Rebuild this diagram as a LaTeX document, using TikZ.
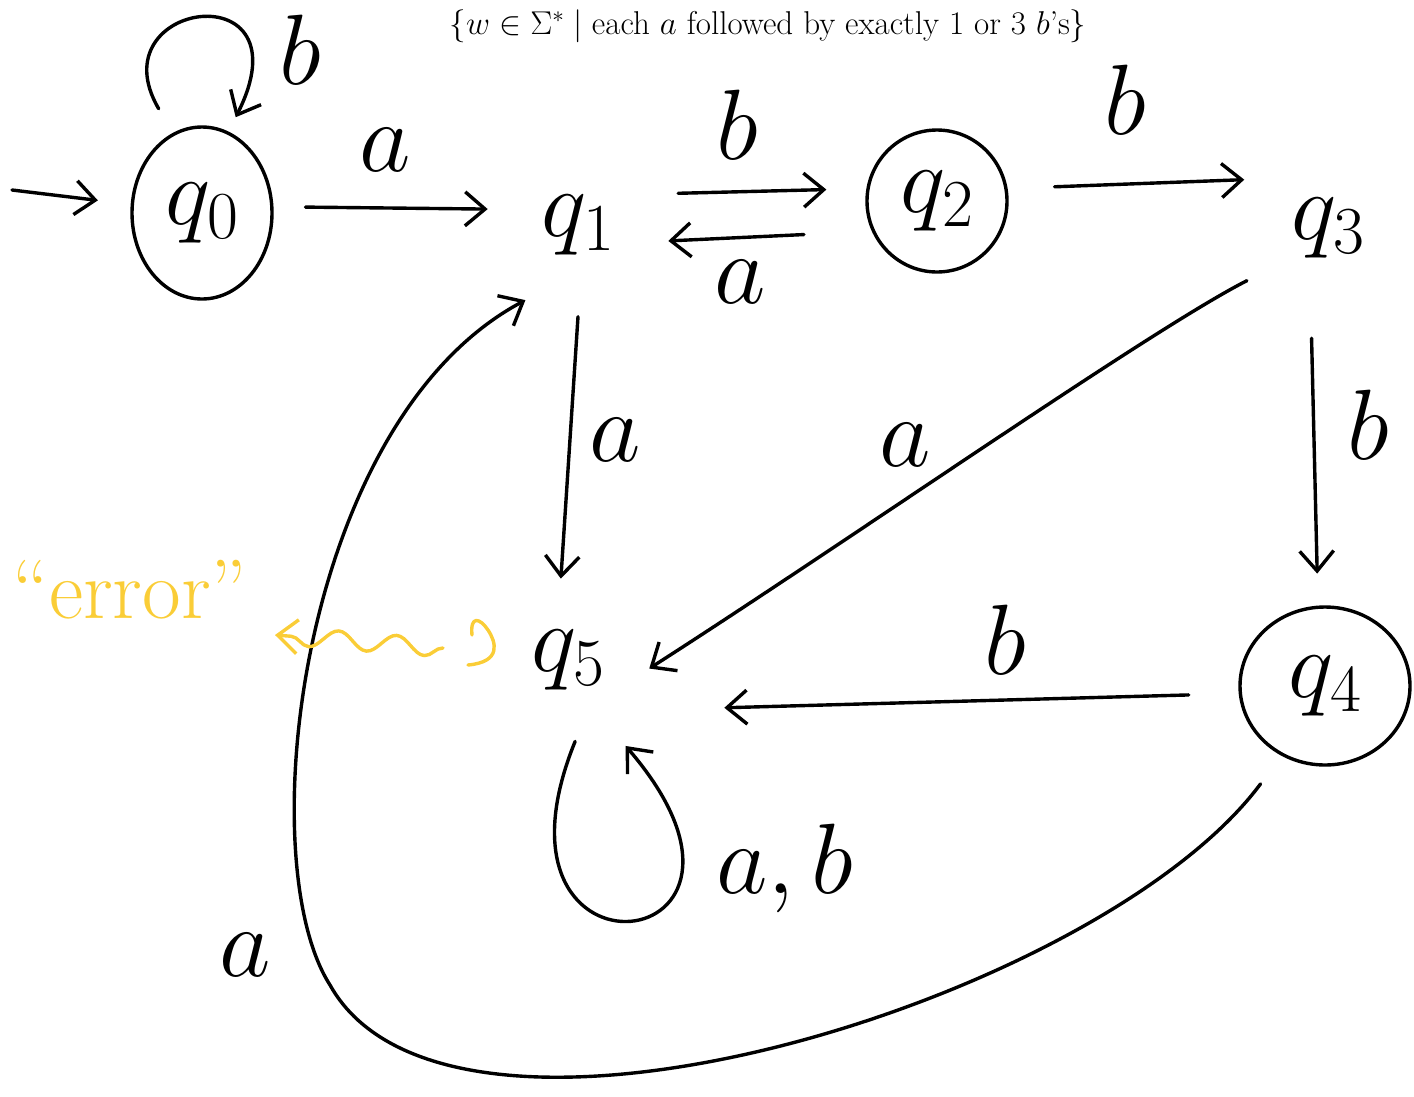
\RequirePackage{fix-cm}
\documentclass[tikz,border=0pt]{standalone}
\usepackage{fontspec}
\usetikzlibrary{arrows.meta,shapes.geometric,decorations.pathmorphing}
\definecolor{yel}{RGB}{250,205,55}
\begin{document}
\begin{tikzpicture}[x=1pt,y=-1pt,
  line width=3.4pt, line cap=round, line join=round,
  >={Straight Barb[length=20pt,width=34pt]},
  acc/.style={draw, ellipse, inner sep=0pt, font=\fontsize{96}{100}\selectfont},
  st/.style={circle, inner sep=0pt, font=\fontsize{96}{100}\selectfont},
  lbl/.style={inner sep=0pt, font=\fontsize{100}{110}\selectfont},
  trans/.style={->}
]
\useasboundingbox (0,0) rectangle (1414,1096);

% title
\node[inner sep=0pt] (title) at (768,26) {\fontsize{33}{37}\selectfont $\{w \in \Sigma^* \mid \mbox{each } a \mbox{ followed by exactly 1 or 3 } b\mbox{'s}\}$};

% states
\node[acc, minimum width=140pt, minimum height=172pt] (q0) at (202,213) {$q_0$};
\node[st, minimum size=180pt] (q1) at (578,225) {$q_1$};
\node[acc, minimum width=140pt, minimum height=142pt] (q2) at (937,201) {$q_2$};
\node[st, minimum size=190pt] (q3) at (1328,228) {$q_3$};
\node[acc, minimum width=170pt, minimum height=158pt] (q4) at (1325,686) {$q_4$};
\node[st, minimum size=160pt] (q5) at (568,660) {$q_5$};

% start arrow
\coordinate (start) at (12,190);
\draw[trans, shorten >=33pt] (start) -- (q0);

% transitions
\draw[trans, shorten <=32pt] (q0.5) -- (q1.170);
\draw[trans, shorten <=14pt, shorten >=40pt] (q1.20) -- (q2.170);
\draw[trans, shorten <=68pt] (q2.205) -- (q1.350);
\draw[trans, shorten <=47pt] (q2.10) -- (q3.150);
\draw[trans] (q1.270) -- (q5.95);
\draw[trans] (q3.213) .. controls (1150,330) and (850,540) .. (q5.354);
\draw[trans, shorten <=15pt, shorten >=32pt] (q3.260) -- (q4.95);
\draw[trans, shorten <=50pt, shorten >=92pt] (q4.185) -- (q5.322);
\draw[trans, shorten <=35pt] (q4.238) .. controls (1100,1000) and (450,1200) .. (330,985)
      .. controls (250,860) and (300,420) .. (q1.235);

% self loops
\draw[trans, shorten <=28pt, shorten >=16pt] (q0.110) .. controls (95,0) and (310,-30) .. (q0.72);
\draw[trans, shorten >=22pt] (q5.275) .. controls (470,1000) and (810,960) .. (q5.302);

% labels
\node[lbl] (lb00) at (300,50) {$b$};
\node[lbl] (la01) at (385,150) {$a$};
\node[lbl] (lb12) at (737,125) {$b$};
\node[lbl] (la21) at (740,282) {$a$};
\node[lbl] (lb23) at (1125,100) {$b$};
\node[lbl] (la15) at (615,440) {$a$};
\node[lbl] (la35) at (905,445) {$a$};
\node[lbl] (lb34) at (1368,425) {$b$};
\node[lbl] (lb45) at (1005,640) {$b$};
\node[lbl] (la41) at (245,955) {$a$};
\node[lbl] (lab55) at (785,868) {$a,b$};

% annotation
\node[text=yel, inner sep=0pt, font=\fontsize{84}{90}\selectfont] (err) at (130,590) {``error''};
\coordinate (w1) at (443,648);
\coordinate (w2) at (275,635);
\draw[yel, ->, decorate, decoration={snake, segment length=58pt, amplitude=9pt, post length=16pt}] (w1) -- (w2);
\draw[yel] (472,635) .. controls (470,615) and (480,618) .. (488,630)
      .. controls (496,642) and (502,662) .. (468,665);
\end{tikzpicture}
\end{document}
